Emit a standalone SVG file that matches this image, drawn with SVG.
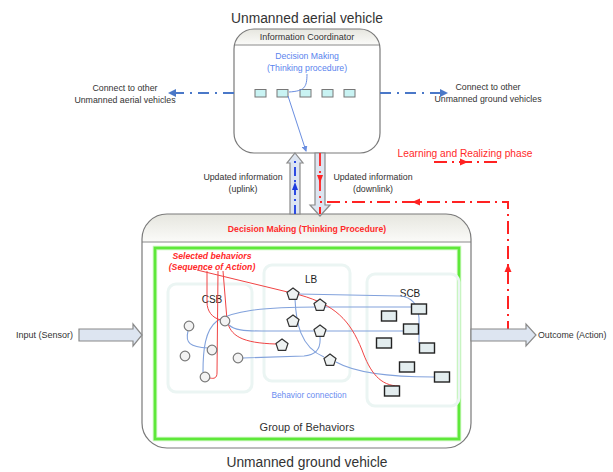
<svg xmlns="http://www.w3.org/2000/svg" width="613" height="472" viewBox="0 0 613 472">
<style>
text{font-family:"Liberation Sans",Arial,sans-serif;fill:#333}
.c{text-anchor:middle}
.box{fill:none;stroke:#7a7a7a;stroke-width:1.2}
.hdr{stroke:#8a8a8a;stroke-width:1}
.sq{fill:#c9f3f3;stroke:#777;stroke-width:1}
.blk{fill:#dde5f1;stroke:#8a8a8a;stroke-width:1.2}
.bd{fill:none;stroke:#4a78c8;stroke-width:2;stroke-dasharray:11 6 2 6}
.rd{fill:none;stroke:#ff2222;stroke-width:2;stroke-dasharray:13 5 2 5}
.bl{fill:none;stroke:#82a2dc;stroke-width:1.1}
.rl{fill:none;stroke:#f04444;stroke-width:1}
.grp{fill:none;stroke:#ebf5f3;stroke-width:3}
.cir{fill:#f3f3f3;stroke:#7a7a7a;stroke-width:1.2}
.pen{fill:#eef2f2;stroke:#333;stroke-width:1.2}
.rc{fill:#e3edef;stroke:#222;stroke-width:1.4}
.lbl{font-size:10px;fill:#222}
</style>
<defs>
<linearGradient id="hg" x1="0" y1="0" x2="0" y2="1">
<stop offset="0" stop-color="#e6e6df"/>
<stop offset="1" stop-color="#fbfbf9"/>
</linearGradient>
<clipPath id="ct"><rect x="234" y="29" width="146" height="124" rx="20"/></clipPath>
<clipPath id="cb"><rect x="142" y="214" width="329" height="234" rx="25"/></clipPath>
<marker id="ab" markerWidth="8" markerHeight="8" refX="6" refY="4" orient="auto" markerUnits="userSpaceOnUse">
<path d="M0,0 L8,4 L0,8 Z" fill="#4a78c8"/>
</marker>
<marker id="at" markerWidth="6" markerHeight="6" refX="5" refY="3" orient="auto" markerUnits="userSpaceOnUse">
<path d="M0,0 L6,3 L0,6 Z" fill="#6a8ee0"/>
</marker>
</defs>
<rect width="613" height="472" fill="#fff"/>

<text class="c" x="307" y="23" style="font-size:13.8px">Unmanned aerial vehicle</text>
<text class="c" x="307" y="467" style="font-size:13.8px">Unmanned ground vehicle</text>

<g id="uav">
<rect x="234" y="29" width="146" height="124" rx="20" fill="#fff"/>
<rect x="234" y="29" width="146" height="16" fill="url(#hg)" clip-path="url(#ct)"/>
<line class="hdr" x1="234" y1="45" x2="380" y2="45"/>
<rect class="box" x="234" y="29" width="146" height="124" rx="20"/>
<text class="c" x="307" y="40" style="font-size:9px">Information Coordinator</text>
<text class="c" x="307" y="59" style="font-size:8.7px;fill:#5a84ee">Decision Making</text>
<text class="c" x="307" y="71" style="font-size:8.7px;fill:#5a84ee">(Thinking procedure)</text>
<rect class="sq" x="255" y="89.5" width="11" height="7.5"/>
<rect class="sq" x="277" y="89.5" width="11" height="7.5"/>
<rect class="sq" x="300" y="89.5" width="11" height="7.5"/>
<rect class="sq" x="322" y="89.5" width="11" height="7.5"/>
<rect class="sq" x="344" y="89.5" width="11" height="7.5"/>
</g>

<g id="ugv">
<rect x="142" y="214" width="329" height="234" rx="25" fill="#fff"/>
<rect x="142" y="214" width="329" height="28" fill="url(#hg)" clip-path="url(#cb)"/>
<line class="hdr" x1="142" y1="242" x2="471" y2="242"/>
<rect class="box" x="142" y="214" width="329" height="234" rx="25"/>
<text class="c" x="307" y="232" style="font-size:8.7px;font-weight:bold;fill:#ff2a2a">Decision Making (Thinking Procedure)</text>
</g>

<g id="group-of-behaviors">
<rect x="155" y="248" width="304" height="191" fill="none" stroke="#c4f7b6" stroke-width="4.5"/>
<rect x="155" y="248" width="304" height="191" fill="none" stroke="#5ee83a" stroke-width="2.6"/>
<rect class="grp" x="168" y="284" width="84" height="108" rx="8"/>
<rect class="grp" x="264" y="265" width="86" height="116" rx="8"/>
<rect class="grp" x="367" y="274" width="92" height="132" rx="8"/>
<text class="c" x="307" y="431" style="font-size:11px">Group of Behaviors</text>
<text class="c" x="309" y="398" style="font-size:8.3px;fill:#6a8cf0">Behavior connection</text>
<text class="c" x="212" y="259" style="font-size:8.7px;font-weight:bold;font-style:italic;fill:#ff2a2a">Selected behaviors</text>
<text class="c" x="212" y="270" style="font-size:8.7px;font-weight:bold;font-style:italic;fill:#ff2a2a">(Sequence of Action)</text>
<text class="c lbl" x="311" y="283">LB</text>
<text class="c lbl" x="212" y="303">CSB</text>
<text class="c lbl" x="410" y="297">SCB</text>
</g>

<g id="connectors">
<path d="M307,74 C307,88 304,91 289,92" fill="none" stroke="#6a8ee0" stroke-width="1"/>
<path d="M288,96 L306,151" fill="none" stroke="#6a8ee0" stroke-width="1" marker-end="url(#at)"/>
<path class="bd" d="M234,93 L170,93" marker-end="url(#ab)"/>
<path class="bd" d="M380,93 L446,93" marker-end="url(#ab)"/>
<polygon class="blk" points="295,153 303,163 300,163 300,214 290,214 290,163 287,163"/>
<polygon class="blk" points="315,153 325,153 325,205 330,205 320,216 310,205 315,205"/>
<path d="M295,214 L295,158" fill="none" stroke="#1a3ae0" stroke-width="1.8" stroke-dasharray="9 4 2 4"/>
<polygon points="295,182 298,190 292,190" fill="#1a3ae0"/>
<path class="rd" d="M320,153 L320,200" style="stroke-width:1.8"/>
<polygon points="320,183 323,175 317,175" fill="#ff2222"/>
<path class="rd" d="M508,334 L508,202 L320,202 L320,214"/>
<polygon points="412,202 420,198.5 420,205.5" fill="#ff2222"/>
<polygon points="508,264 511.5,272 504.5,272" fill="#ff2222"/>
<path class="rd" d="M434,162 L497,162"/>
<polygon points="468,162 460,158.5 460,165.5" fill="#ff2222"/>
<polygon class="blk" points="79,329 133,329 133,324 142,335 133,346 133,341 79,341"/>
<polygon class="blk" points="471,329 526,329 526,324 536,335 526,346 526,341 471,341"/>
<path class="bl" d="M298,294 L400,296 C413,297 418,305 419,318 L419,343"/>
<path class="bl" d="M203,372 C203,350 205,330 217,321 C232,311 262,307 317,307 L411,307"/>
<path class="bl" d="M229,325 C234,330 244,331 262,331 L403,331"/>
<path class="bl" d="M188,331 C185,343 190,347 208,348"/>
<path class="bl" d="M243,358 L304,356 C316,355 321,349 320,337"/>
<path class="bl" d="M295,299 C296,322 300,347 324,357"/>
<path class="bl" d="M336,362 C352,371 385,377 434,377"/>
<path class="rl" d="M197,270 L300,295 C335,305 350,320 362,350 C370,372 380,386 399,386"/>
<path class="rl" d="M207,271 L207,302 C207,311 212,318 221,320"/>
<path class="rl" d="M218,271 L217,373 C217,378 214,379 210,378"/>
<path class="rl" d="M223,271 L227,320 C230,336 242,343 276,344"/>
</g>

<g id="csb-nodes">
<circle class="cir" cx="189" cy="326" r="4.8"/>
<circle class="cir" cx="225" cy="321" r="4.8"/>
<circle class="cir" cx="212" cy="350" r="4.8"/>
<circle class="cir" cx="185" cy="356" r="4.8"/>
<circle class="cir" cx="238" cy="358" r="4.8"/>
<circle class="cir" cx="205" cy="377" r="4.8"/>
</g>
<g id="lb-nodes">
<polygon class="pen" points="293,288 299,292.4 296.7,299.4 289.3,299.4 287,292.4"/>
<polygon class="pen" points="320,299 326,303.4 323.7,310.4 316.3,310.4 314,303.4"/>
<polygon class="pen" points="293,315 299,319.4 296.7,326.4 289.3,326.4 287,319.4"/>
<polygon class="pen" points="320,325 326,329.4 323.7,336.4 316.3,336.4 314,329.4"/>
<polygon class="pen" points="282,339 288,343.4 285.7,350.4 278.3,350.4 276,343.4"/>
<polygon class="pen" points="330,354 336,358.4 333.7,365.4 326.3,365.4 324,358.4"/>
</g>
<g id="scb-nodes">
<rect class="rc" x="411.5" y="304" width="15" height="10"/>
<rect class="rc" x="381.5" y="311" width="15" height="10"/>
<rect class="rc" x="403.5" y="324" width="15" height="10"/>
<rect class="rc" x="376.5" y="338" width="15" height="10"/>
<rect class="rc" x="419.5" y="343" width="15" height="10"/>
<rect class="rc" x="399.5" y="362" width="15" height="10"/>
<rect class="rc" x="434.5" y="372" width="15" height="10"/>
<rect class="rc" x="384.5" y="386" width="15" height="10"/>
</g>

<g id="labels">
<text class="c" x="125" y="91" style="font-size:8.8px">Connect to other</text>
<text class="c" x="125" y="103" style="font-size:8.8px">Unmanned aerial vehicles</text>
<text class="c" x="488" y="90" style="font-size:8.8px">Connect to other</text>
<text class="c" x="488" y="102" style="font-size:8.8px">Unmanned ground vehicles</text>
<text class="c" x="243" y="180" style="font-size:8.8px">Updated information</text>
<text class="c" x="243" y="192" style="font-size:8.8px">(uplink)</text>
<text class="c" x="373" y="180" style="font-size:8.8px">Updated information</text>
<text class="c" x="373" y="192" style="font-size:8.8px">(downlink)</text>
<text class="c" x="465" y="157" style="font-size:10.2px;fill:#ff2a2a">Learning and Realizing phase</text>
<text x="16" y="338" style="font-size:9px">Input (Sensor)</text>
<text x="538" y="338" style="font-size:8.8px">Outcome (Action)</text>
</g>
</svg>
